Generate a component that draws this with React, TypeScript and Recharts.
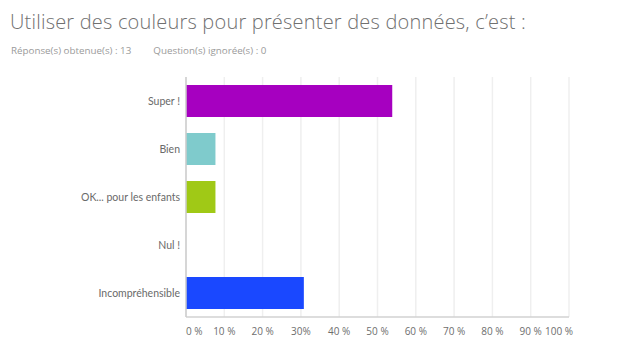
import React from 'react';
import { BarChart, Bar, XAxis, YAxis, CartesianGrid, Cell } from 'recharts';

const categories = ['Super !', 'Bien', 'OK... pour les enfants', 'Nul !', 'Incompréhensible'];
const percentages = [53.85, 7.69, 7.69, 0, 30.77];
const barColors = ['#A600C0', '#7FCBCC', '#A0C916', '#1E90FF', '#1A48FF'];
const tickValues = [0, 10, 20, 30, 40, 50, 60, 70, 80, 90, 100];
const tickLabels = ['0 %', '10 %', '20 %', '30%', '40 %', '50 %', '60 %', '70 %', '80 %', '90 %', '100 %'];

const FONT = '"Open Sans", "Noto Sans", sans-serif';
const LABEL_FONT = 'Lato, "Open Sans", sans-serif';

const chartData = categories.map((name, i) => ({ name, value: percentages[i], color: barColors[i] }));

// first and last labels are pushed inward like the original survey export
const PercentTick = ({ x, y, payload, index }: any) => {
    const last = tickValues.length - 1;
    let anchor: 'start' | 'middle' | 'end' = 'middle';
    let dx = 0;
    if (index === 0) { anchor = 'start'; dx = 0; }
    if (index === last) { anchor = 'end'; dx = 4; }
    return (
        <text x={x + dx} y={y} dy="0.71em" textAnchor={anchor} fill="#6e6e6e" fontSize={10} fontFamily={FONT}>
            {tickLabels[tickValues.indexOf(payload.value)]}
        </text>
    );
};

const App: React.FC = () => {
    return (
        <div style={{ position: 'absolute', left: 0, top: 0, width: 619, height: 358, background: '#fff', fontFamily: FONT }}>
            <div style={{ position: 'absolute', left: 10, top: 8, fontSize: 20, fontWeight: 300, color: '#707070', whiteSpace: 'nowrap', letterSpacing: 0.2 }}>
                Utiliser des couleurs pour présenter des données, c’est :
            </div>
            <div style={{ position: 'absolute', left: 11, top: 44, fontSize: 9.8, color: '#9a9a9a', whiteSpace: 'nowrap' }}>
                Réponse(s) obtenue(s) : 13<span style={{ display: 'inline-block', width: 22 }} />Question(s) ignorée(s) : 0
            </div>
            <div style={{ position: 'absolute', left: 0, top: 0 }}>
                <BarChart
                    width={619}
                    height={358}
                    data={chartData}
                    layout="vertical"
                    margin={{ top: 77, right: 50, bottom: 11, left: 6 }}
                    barSize={32}
                >
                    <CartesianGrid horizontal={false} stroke="#efefef" strokeWidth={1.5} />
                    <XAxis
                        type="number"
                        domain={[0, 100]}
                        ticks={tickValues}
                        interval={0}
                        tickLine={false}
                        tickSize={0}
                        tickMargin={11}
                        height={30}
                        axisLine={{ stroke: '#d2d2d2', strokeWidth: 1.5 }}
                        tick={<PercentTick />}
                    />
                    <YAxis
                        type="category"
                        dataKey="name"
                        width={180}
                        tickLine={false}
                        tickSize={0}
                        tickMargin={6}
                        axisLine={{ stroke: '#cccccc', strokeWidth: 1.5 }}
                        tick={{ fill: '#6a6a6a', fontSize: 10.5, fontFamily: LABEL_FONT }}
                    />
                    <Bar dataKey="value" isAnimationActive={false}>
                        {chartData.map((d, i) => (
                            <Cell key={`cell-${i}`} fill={d.color} />
                        ))}
                    </Bar>
                </BarChart>
            </div>
        </div>
    );
};

export default App;
